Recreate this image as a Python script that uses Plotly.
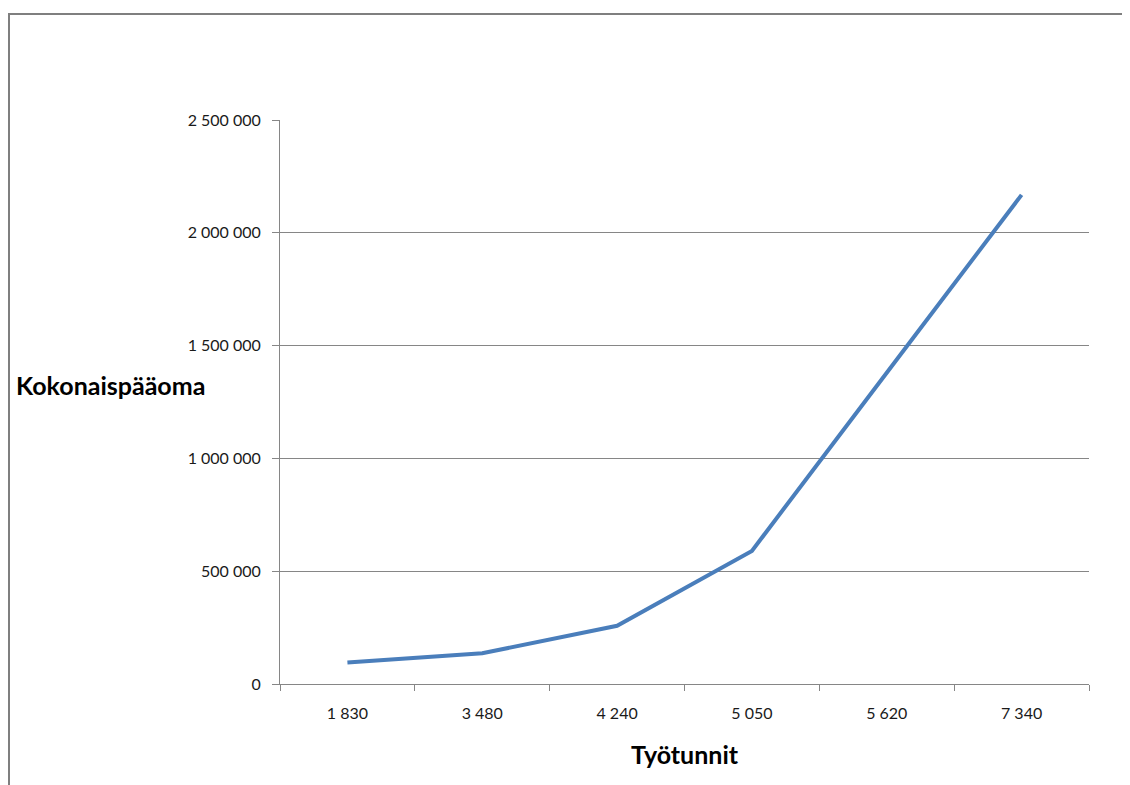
import plotly.graph_objects as go

categories = ["1 830", "3 480", "4 240", "5 050", "5 620", "7 340"]
values = [95000, 136000, 258000, 590000, 1380000, 2168000]
y_ticks = [0, 500000, 1000000, 1500000, 2000000, 2500000]
x_title = "Työtunnit"
y_title = "Kokonaispääoma"

OFF = 8  # page body offset
W, H = 1130 - OFF, 785 - OFF
L, T = 280 - OFF, 120 - OFF
R = W - (1089 - OFF)
B = H - (684 - OFF)
pw, ph = W - L - R, H - T - B

def px_x(px):
    return (px - OFF - L) / pw

def px_y(py):
    return (H - B - (py - OFF)) / ph

FONT = "Lato, sans-serif"

fig = go.Figure()
fig.add_trace(go.Scatter(
    x=categories, y=values, mode="lines",
    line=dict(color="#4A7EBB", width=4),
    showlegend=False, hoverinfo="skip",
))

fig.update_layout(
    width=W, height=H,
    margin=dict(l=L, r=R, t=T, b=B, pad=0),
    paper_bgcolor="white", plot_bgcolor="white",
    separators=". ",
    font=dict(family=FONT, size=16, color="#1a1a1a"),
    xaxis=dict(
        type="category", tickson="boundaries", ticks="outside", ticklen=6,
        tickcolor="#868686", tickwidth=1,
        showline=True, linecolor="#868686", linewidth=1,
        showgrid=False, zeroline=False,
        ticklabelstandoff=15,
        range=[-0.5, 5.5],
    ),
    yaxis=dict(
        range=[0, 2500000], tickvals=y_ticks, tickformat=",d",
        ticks="outside", ticklen=7, tickcolor="#868686",
        showline=True, linecolor="#868686", linewidth=1,
        showgrid=True, gridcolor="#868686", gridwidth=1,
        zeroline=False, ticklabelstandoff=8,
    ),
    shapes=[dict(
        type="rect", xref="paper", yref="paper",
        x0=px_x(9), x1=px_x(1128), y0=px_y(800), y1=px_y(14),
        line=dict(color="#7F7F7F", width=2), layer="below",
    )],
    annotations=[
        dict(text=f"<b>{y_title}</b>", xref="paper", yref="paper",
             x=px_x(14), y=px_y(385), xanchor="left", yanchor="middle",
             showarrow=False, font=dict(family=FONT, size=25, color="black")),
        dict(text=f"<b>{x_title}</b>", xref="paper", yref="paper",
             x=px_x(685), y=px_y(754), xanchor="center", yanchor="middle",
             showarrow=False, font=dict(family=FONT, size=25, color="black")),
    ],
)

fig.write_html("out.html")
